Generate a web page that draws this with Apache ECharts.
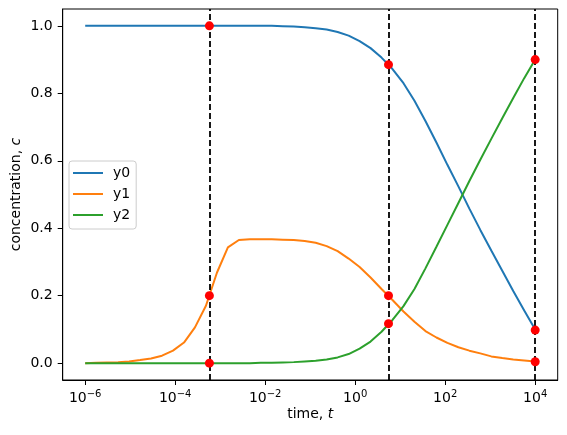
<!DOCTYPE html>
<html>
<head>
<meta charset="utf-8">
<script src="https://cdn.jsdelivr.net/npm/echarts@6/dist/echarts.min.js"></script>
<style>
  html, body { margin: 0; padding: 0; background: #fff; }
  #chart { width: 567px; height: 435px; }
</style>
</head>
<body>
<div id="chart"></div>
<script>
// sample times as log10(t); the x axis is drawn in decades
const timeExp = [-6, -5.756, -5.512, -5.268, -5.024, -4.780, -4.537, -4.293, -4.049, -3.805,
  -3.561, -3.317, -3.073, -2.829, -2.585, -2.341, -2.098, -1.854, -1.610, -1.366,
  -1.122, -0.878, -0.634, -0.390, -0.146, 0.098, 0.341, 0.585, 0.829, 1.073,
  1.317, 1.561, 1.805, 2.049, 2.293, 2.537, 2.780, 3.024, 3.268, 3.512, 3.756, 4.0];

const y0 = [1, 1, 1, 1, 1, 1, 1, 1, 1, 1,
  1, 1, 1, 1, 1, 1, 1, 1, 0.999, 0.998,
  0.996, 0.993, 0.989, 0.982, 0.971, 0.955, 0.934, 0.906, 0.872, 0.83,
  0.778, 0.718, 0.654, 0.588, 0.524, 0.458, 0.395, 0.334, 0.274, 0.214, 0.156, 0.1];

const y1 = [0, 0.001, 0.002, 0.003, 0.005, 0.009, 0.014, 0.022, 0.037, 0.061,
  0.106, 0.17, 0.268, 0.343, 0.365, 0.367, 0.367, 0.367, 0.366, 0.365,
  0.362, 0.357, 0.347, 0.332, 0.31, 0.285, 0.254, 0.22, 0.187, 0.153,
  0.123, 0.095, 0.076, 0.06, 0.047, 0.037, 0.029, 0.02, 0.015, 0.011, 0.008, 0.005];

const y2 = [0, 0, 0, 0, 0, 0, 0, 0, 0, 0,
  0, 0, 0, 0, 0, 0, 0.001, 0.001, 0.002, 0.003,
  0.005, 0.007, 0.011, 0.017, 0.027, 0.043, 0.064, 0.093, 0.128, 0.169,
  0.22, 0.281, 0.345, 0.41, 0.475, 0.54, 0.603, 0.665, 0.726, 0.786, 0.845, 0.9];

// marked times (log10) and the values there
const markExp = [-3.24, 0.74, 4.0];
const markY0 = [1.0, 0.885, 0.098];
const markY1 = [0.2, 0.2, 0.004];
const markY2 = [0.0, 0.117, 0.9];

const xTicks = [-6, -4, -2, 0, 2, 4];
const yTicks = [0, 0.2, 0.4, 0.6, 0.8, 1.0];

const names = ['y0', 'y1', 'y2'];
const colors = ['#1f77b4', '#ff7f0e', '#2ca02c'];
const font = 'DejaVu Sans';

const pairs = ys => timeExp.map((e, i) => [e, ys[i]]);

const dots = [];
[markY0, markY1, markY2].forEach(ys => {
  markExp.forEach((e, i) => dots.push([e, ys[i]]));
});

const chart = echarts.init(document.getElementById('chart'), null, { renderer: 'canvas' });

const nameRich = {
  n: { fontFamily: font, fontSize: 14, color: '#000' },
  i: { fontFamily: font, fontSize: 14, color: '#000', fontStyle: 'italic' }
};

const option = {
  animation: false,
  backgroundColor: '#fff',
  grid: {
    left: 62.7, right: 9.3, top: 9, bottom: 55,
    outerBoundsMode: 'none',
    containLabel: false,
    show: true, borderColor: '#000', borderWidth: 1, backgroundColor: 'transparent'
  },
  legend: {
    orient: 'vertical',
    left: 69, top: 161,
    data: names,
    icon: 'rect',
    itemWidth: 30, itemHeight: 2,
    itemGap: 7,
    padding: [5, 6, 7, 4],
    borderColor: '#cccccc', borderWidth: 1, borderRadius: 3,
    backgroundColor: 'rgba(255,255,255,0.8)',
    textStyle: { fontFamily: font, fontSize: 14, color: '#000', padding: [0, 0, 0, 5] }
  },
  xAxis: {
    type: 'value',
    min: -6.5,
    max: 4.5,
    splitLine: { show: false },
    axisLine: { onZero: false, lineStyle: { color: '#000', width: 1 } },
    axisTick: { customValues: xTicks, inside: false, length: 5, lineStyle: { color: '#000' } },
    axisLabel: {
      customValues: xTicks,
      margin: 9,
      formatter: e => '{b|10}{s|' + (e < 0 ? '\u2212' : '') + Math.abs(e) + '}',
      rich: {
        b: { fontFamily: font, fontSize: 14, color: '#000', lineHeight: 16, verticalAlign: 'bottom' },
        s: { fontFamily: font, fontSize: 10, color: '#000', lineHeight: 10, verticalAlign: 'top' }
      }
    },
    name: '{n|time, }{i|t}',
    nameLocation: 'middle',
    nameGap: 27,
    nameMoveOverlap: false,
    nameTextStyle: { rich: nameRich }
  },
  yAxis: {
    type: 'value',
    min: -0.05,
    max: 1.05,
    splitLine: { show: false },
    axisLine: { show: true, onZero: false, lineStyle: { color: '#000', width: 1 } },
    axisTick: { show: true, customValues: yTicks, inside: false, length: 5, lineStyle: { color: '#000' } },
    axisLabel: {
      customValues: yTicks,
      margin: 10,
      formatter: v => v.toFixed(1),
      fontFamily: font, fontSize: 14, color: '#000'
    },
    name: '{n|concentration, }{i|c}',
    nameLocation: 'middle',
    nameGap: 39,
    nameMoveOverlap: false,
    nameTextStyle: { rich: nameRich }
  },
  series: [
    ...[y0, y1, y2].map((ys, k) => ({
      name: names[k],
      type: 'line',
      data: pairs(ys),
      showSymbol: false,
      symbol: 'none',
      color: colors[k],
      lineStyle: { width: 2, color: colors[k] },
      z: 2
    })),
    {
      type: 'line',
      data: [],
      silent: true,
      markLine: {
        silent: true,
        symbol: ['none', 'none'],
        label: { show: false },
        lineStyle: { color: '#000', width: 1.8, type: [6, 3] },
        data: markExp.map(e => ({ xAxis: e }))
      }
    },
    {
      type: 'scatter',
      data: dots,
      symbol: 'circle',
      symbolSize: 9,
      itemStyle: { color: '#ff0000', opacity: 1 },
      z: 10
    }
  ]
};

chart.setOption(option);
</script>
</body>
</html>
